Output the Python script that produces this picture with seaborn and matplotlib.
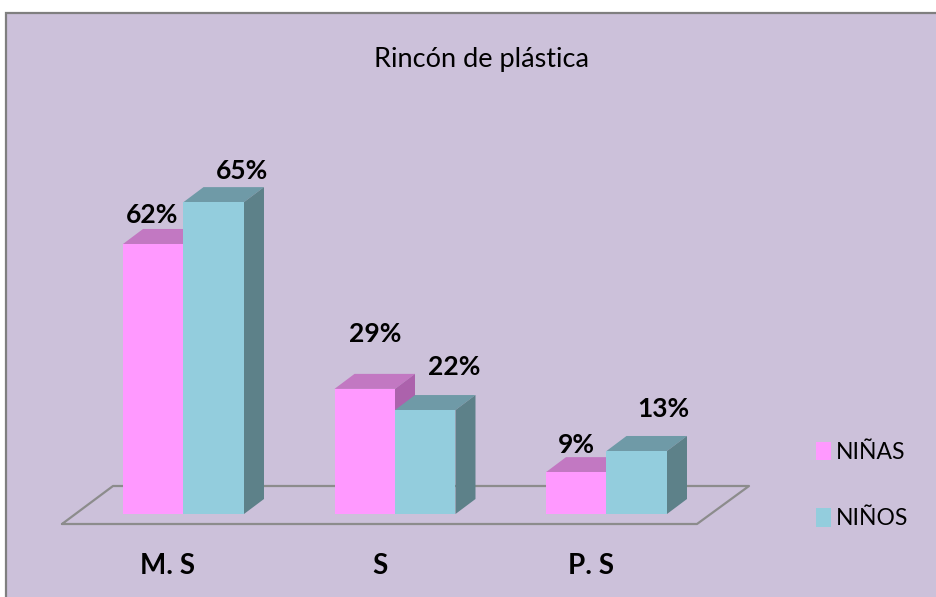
import matplotlib
matplotlib.use("Agg")
import matplotlib.pyplot as plt
from matplotlib.patches import Polygon, Rectangle
from matplotlib.lines import Line2D
from matplotlib.transforms import ScaledTranslation
import pandas as pd
import seaborn as sns

# ---- data ----
categories = ["M. S", "S", "P. S"]
series_names = ["NIÑAS", "NIÑOS"]
labels_ninas = ["62%", "29%", "9%"]
labels_ninos = ["65%", "22%", "13%"]
# bar heights as actually drawn in the picture (they differ slightly from the printed labels)
heights_ninas = [58.7, 27.2, 9.1]
heights_ninos = [67.8, 22.6, 13.7]

# ---- style / layout ----
W, H = 937, 597
PANEL = "#CCC1DA"
FRONT = ["#FF99FF", "#93CDDD"]
TOP = ["#C278C2", "#6F9AA7"]
SIDE = ["#AC62AC", "#5D8189"]
DEPTH_X, DEPTH_Y = 20, 15  # px
LABEL_OFFSETS = [[(-1, 28.5), (10, 54.5), (0, 27.5)], [(28.5, 31.5), (28.5, 43.5), (26.5, 41.5)]]  # px

sns.set_theme(style="white")
plt.rcParams["font.family"] = ["Lato", "DejaVu Sans"]

fig = plt.figure(figsize=(W / 100, H / 100), dpi=100, facecolor="white")
ax_l, ax_r, ax_b, ax_t = 77.75, 712.25, 514, 64
ax = fig.add_axes([ax_l / W, 1 - ax_b / H, (ax_r - ax_l) / W, (ax_b - ax_t) / H])
ax.patch.set_alpha(0)

def fx(x):
    return x / W

def fy(y):
    return 1 - y / H

fig.add_artist(Rectangle((fx(6.5), fy(H + 5)), fx(W + 10), fy(12.5) - fy(H + 5),
                         transform=fig.transFigure, facecolor=PANEL,
                         edgecolor="#7F7F7F", linewidth=1.6, zorder=-2))
floor_px = [(62, 524), (697, 524), (749, 486), (113, 486), (62, 524)]
fig.add_artist(Line2D([fx(p[0]) for p in floor_px], [fy(p[1]) for p in floor_px],
                      transform=fig.transFigure, color="#8C8C8C", linewidth=1.6, zorder=-1))

df = pd.DataFrame({
    "cat": categories * 2,
    "serie": [series_names[0]] * 3 + [series_names[1]] * 3,
    "valor": heights_ninas + heights_ninos,
})
sns.barplot(data=df, x="cat", y="valor", hue="serie", order=categories, hue_order=series_names,
            palette=FRONT, width=0.572, gap=0, dodge=True, linewidth=0, errorbar=None,
            saturation=1, ax=ax)
ax.set_xlim(-0.5, 2.5)
ax.set_ylim(0, (ax_b - ax_t) / 4.6)

sx = 3.0 / (ax_r - ax_l)  # data units per px, x
sy = ax.get_ylim()[1] / (ax_b - ax_t)  # data units per px, y
ddx, ddy = DEPTH_X * sx, DEPTH_Y * sy

all_labels = [labels_ninas, labels_ninos]
for s, container in enumerate(ax.containers):
    for i, bar in enumerate(container):
        x0, w, h = bar.get_x(), bar.get_width(), bar.get_height()
        x1 = x0 + w
        bar.set_zorder(2 + 2 * s)
        ax.add_patch(Polygon([(x0, h), (x1, h), (x1 + ddx, h + ddy), (x0 + ddx, h + ddy)],
                             closed=True, facecolor=TOP[s], edgecolor="none",
                             zorder=1.5 + 2 * s, clip_on=False))
        ax.add_patch(Polygon([(x1, 0), (x1, h), (x1 + ddx, h + ddy), (x1 + ddx, ddy)],
                             closed=True, facecolor=SIDE[s], edgecolor="none",
                             zorder=1.5 + 2 * s, clip_on=False))
        off = LABEL_OFFSETS[s][i]
        ax.annotate(all_labels[s][i], xy=(x0 + w / 2, h),
                    xytext=(off[0] * 0.72, off[1] * 0.72), textcoords="offset points",
                    ha="center", va="center", fontsize=19, fontweight="bold",
                    color="black", zorder=10, annotation_clip=False)

for sp in ax.spines.values():
    sp.set_visible(False)
ax.set_xlabel("")
ax.set_ylabel("")
ax.set_yticks([])
ax.tick_params(axis="x", length=0, pad=28, labelsize=20, colors="black")
shift = ScaledTranslation(-15.5 / 100, 0, fig.dpi_scale_trans)
for t in ax.get_xticklabels():
    t.set_fontweight("bold")
    t.set_transform(t.get_transform() + shift)

handles, names = ax.get_legend_handles_labels()
ax.legend(handles, names, loc="center left", bbox_to_anchor=(fx(816), fy(485.5)),
          bbox_transform=fig.transFigure, frameon=False, fontsize=16.5,
          handlelength=0.65, handleheight=0.85, handletextpad=0.2, labelspacing=2.0,
          borderpad=0, borderaxespad=0, labelcolor="black")

fig.text(fx(481), fy(59), "Rincón de plástica", ha="center", va="center",
         fontsize=19.5, color="black")

fig.savefig("out.png", dpi=100, facecolor="white")
